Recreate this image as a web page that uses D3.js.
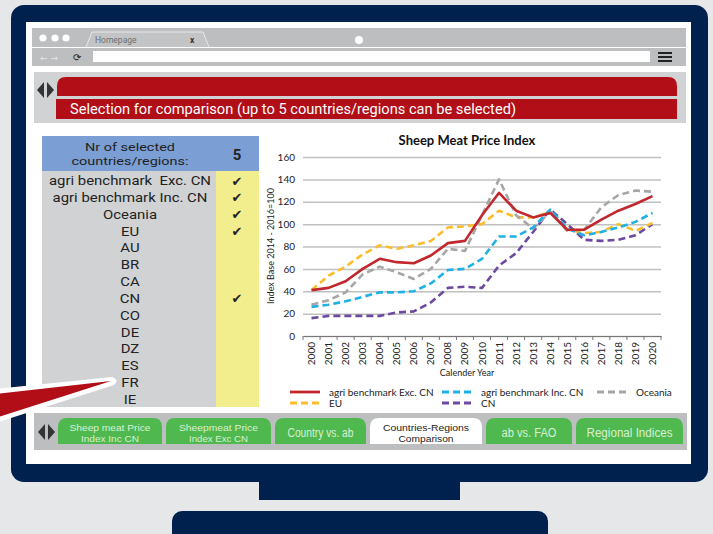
<!DOCTYPE html>
<html><head><meta charset="utf-8">
<script src="https://cdn.jsdelivr.net/npm/d3@7"></script>
<style>html,body{margin:0;padding:0;background:#e6e7e8;}svg{display:block;}</style>
</head><body>
<svg id="c" width="713" height="534"></svg>
<script>
const years = ["2000","2001","2002","2003","2004","2005","2006","2007","2008","2009","2010","2011","2012","2013","2014","2015","2016","2017","2018","2019","2020"];
const abExcCN = [41,43,49,60,69,66,65,72,83,85,108,128,112,106,110,95,95,104,112,118,125];
const abIncCN = [26,28,31,35,39,39,40,47,59,60,69,89,89,97,113,96,90,93,97,102,110];
const oceania = [28,32,39,55,62,57,51,60,78,76,108,140,108,96,111,94,95,115,126,130,129];
const eu = [41,54,62,73,81,78,81,85,97,98,100,112,106,106,111,95,92,93,100,94,101];
const cn = [16,18,18,18,18,21,22,30,43,44,43,63,74,93,113,100,86,85,86,90,100];
const yTicks = [0,20,40,60,80,100,120,140,160];
const listItems = ["agri benchmark\u00a0\u00a0Exc. CN","agri benchmark Inc. CN","Oceania","EU","AU","BR","CA","CN","CO","DE","DZ","ES","FR","IE"];
const checked = [true,true,true,true,false,false,false,true,false,false,false,false,false,false];
const tabs = [["Sheep meat Price","Index Inc CN"],["Sheepmeat Price","Index Exc CN"],["Country vs. ab"],["Countries-Regions","Comparison"],["ab vs. FAO"],["Regional Indices"]];
const tabTextWidths = [[81,58],[79,59],[66],[86,55],[55],[86]];
const activeTab = 3;

const series = [
  {name:"agri benchmark Exc. CN", values:abExcCN, color:"#c1272d", dash:null},
  {name:"agri benchmark Inc. CN", values:abIncCN, color:"#1fb1e6", dash:"7,4"},
  {name:"Oceania", values:oceania, color:"#a6a6a6", dash:"7,4"},
  {name:"EU", values:eu, color:"#fbbd2c", dash:"7,4"},
  {name:"CN", values:cn, color:"#6c4a9f", dash:"7,4"}
];

const svg = d3.select("#c");
const navy = "#00204e";
svg.append("rect").attr("width",713).attr("height",534).attr("fill","#e6e7e8");
// monitor
svg.append("rect").attr("x",172).attr("y",511).attr("width",376).attr("height",40).attr("rx",10).attr("fill",navy);
svg.append("rect").attr("x",259).attr("y",470).attr("width",201).attr("height",30).attr("fill",navy);
svg.append("rect").attr("x",11).attr("y",5).attr("width",697).attr("height",477).attr("rx",13).attr("fill",navy);
svg.append("rect").attr("x",26).attr("y",22).attr("width",665).attr("height",442).attr("fill","#ffffff");

// browser chrome
svg.append("rect").attr("x",32).attr("y",28).attr("width",654).attr("height",19).attr("fill","#bcbec0");
svg.append("rect").attr("x",32).attr("y",48).attr("width",654).attr("height",18).attr("fill","#bcbec0");
[43,55,66].forEach(cx=>svg.append("circle").attr("cx",cx).attr("cy",38).attr("r",3.6).attr("fill","#fff"));
svg.append("path").attr("d","M86,47 L92,32 L203,32 L209,47").attr("fill","#c3c4c6").attr("stroke","#e8e8e8").attr("stroke-width",1);
svg.append("text").attr("x",95).attr("y",43).text("Homepage").attr("font-family","Roboto, sans-serif").attr("font-size",8.5).attr("fill","#6d6e71");
svg.append("text").attr("x",190).attr("y",43).text("x").attr("font-family","Roboto, sans-serif").attr("font-size",8.5).attr("font-weight","bold").attr("fill","#333");
svg.append("circle").attr("cx",359).attr("cy",40).attr("r",4).attr("fill","#fff");
svg.append("text").attr("x",40).attr("y",61).text("\u2190 \u2192").attr("font-family","DejaVu Sans, sans-serif").attr("font-size",9).attr("fill","#e6e6e6");
svg.append("text").attr("x",73).attr("y",61).text("\u27F3").attr("font-family","DejaVu Sans, sans-serif").attr("font-size",10).attr("fill","#222");
svg.append("rect").attr("x",93).attr("y",51).attr("width",557).attr("height",11).attr("fill","#fff");
[53,57,61].forEach(y=>svg.append("rect").attr("x",658).attr("y",y-1).attr("width",14).attr("height",2).attr("fill","#222"));

// red header section
svg.append("rect").attr("x",34).attr("y",72).attr("width",652).attr("height",51).attr("fill","#d1d2d4");
const arrows = (x,y)=>{
  svg.append("path").attr("d",`M${x+7},${y-8} L${x},${y} L${x+7},${y+8} Z`).attr("fill","#333");
  svg.append("path").attr("d",`M${x+10},${y-8} L${x+17},${y} L${x+10},${y+8} Z`).attr("fill","#333");
};
arrows(37,90);
svg.append("path").attr("d","M57,96 L57,86 Q57,77 66,77 L668,77 Q677,77 677,86 L677,96 Z").attr("fill","#b10e17");
svg.append("rect").attr("x",56).attr("y",99).attr("width",621).attr("height",20).attr("fill","#b10e17");
svg.append("text").attr("x",70).attr("y",114).text("Selection for comparison (up to 5 countries/regions can be selected)")
  .attr("font-family","Roboto, sans-serif").attr("font-size",14).attr("textLength",446).attr("lengthAdjust","spacingAndGlyphs").attr("fill","#fff");

// left table
const tf = "Roboto, sans-serif";
svg.append("rect").attr("x",42).attr("y",136).attr("width",217).attr("height",35).attr("fill","#7b9fd4");
const h1 = svg.append("text").attr("x",130).attr("y",151).attr("text-anchor","middle").text("Nr of selected").attr("font-family",tf).attr("font-size",11.5).attr("fill","#222");
const h2 = svg.append("text").attr("x",130).attr("y",164.5).attr("text-anchor","middle").text("countries/regions:").attr("font-family",tf).attr("font-size",11.5).attr("fill","#222");
const hf = 117 / h2.node().getComputedTextLength();
[h1,h2].forEach(t=>t.attr("textLength",t.node().getComputedTextLength()*hf).attr("lengthAdjust","spacingAndGlyphs"));
svg.append("text").attr("x",237).attr("y",160).attr("text-anchor","middle").text(checked.filter(d=>d).length).attr("font-family",tf).attr("font-size",15).attr("font-weight","bold").attr("fill","#222");
svg.append("rect").attr("x",42).attr("y",171).attr("width",174).attr("height",236).attr("fill","#d1d2d4");
svg.append("rect").attr("x",216).attr("y",171).attr("width",43).attr("height",236).attr("fill","#f2ee8e");
const rowY = d3.scaleLinear().domain([0,listItems.length-1]).range([180,399]);
const rows = listItems.map((t,i)=>{
  if(checked[i]) svg.append("text").attr("x",237).attr("y",rowY(i)+5.5).attr("text-anchor","middle").text("\u2714")
    .attr("font-family","DejaVu Sans, sans-serif").attr("font-size",13).attr("fill","#222");
  return svg.append("text").attr("x",130).attr("y",rowY(i)+5).attr("text-anchor","middle").text(t)
    .attr("font-family",tf).attr("font-size",13.5).attr("fill","#222");
});
const rf = 162 / rows[0].node().getComputedTextLength();
rows.forEach(t=>t.attr("textLength",t.node().getComputedTextLength()*rf).attr("lengthAdjust","spacingAndGlyphs"));

// red pointer
svg.append("path").attr("d","M-5,389 L112,377 Q120,380 114,385 L-5,423 Z").attr("fill","#fff");
svg.append("path").attr("d","M-5,394 L111,381 L-5,418 Z").attr("fill","#b10e17");

// tab bar
svg.append("rect").attr("x",34).attr("y",413).attr("width",653).attr("height",37).attr("fill","#bcbec0");
arrows(38,432);
const tabX = [[58,162],[166,271],[275,366],[370,482],[486,572],[576,683]];
const tabFont = "'Liberation Sans', Arial, sans-serif";
tabs.forEach((t,i)=>{
  const [x0,x1]=tabX[i], y0=418, y1=444, r=9;
  const act = i===activeTab;
  svg.append("path").attr("d",`M${x0},${y1} L${x0},${y0+r} Q${x0},${y0} ${x0+r},${y0} L${x1-r},${y0} Q${x1},${y0} ${x1},${y0+r} L${x1},${y1} Z`)
    .attr("fill",act?"#ffffff":"#4fb94f");
  const cx=(x0+x1)/2;
  const fc = act?"#222":"#d9f0d3";
  if(t.length===1){
    svg.append("text").attr("x",cx).attr("y",436.5).attr("text-anchor","middle").text(t[0]).attr("font-family",tabFont).attr("font-size",12)
      .attr("textLength",tabTextWidths[i][0]).attr("lengthAdjust","spacingAndGlyphs").attr("fill",fc);
  } else {
    t.forEach((line,j)=>{
      svg.append("text").attr("x",cx).attr("y",431+j*10.5).attr("text-anchor","middle").text(line).attr("font-family",tabFont).attr("font-size",9.3)
        .attr("textLength",tabTextWidths[i][j]).attr("lengthAdjust","spacingAndGlyphs").attr("fill",fc);
    });
  }
});

// chart
const L=303, R=661, T=157, B=336;
const x = d3.scaleBand().domain(years).range([L,R]);
const y = d3.scaleLinear().domain([0,160]).range([B,T]);
const cf = "Lato, 'Open Sans', sans-serif";
svg.append("text").attr("x",467).attr("y",145).attr("text-anchor","middle").text("Sheep Meat Price Index")
  .attr("font-family",cf).attr("font-size",13).attr("font-weight","bold").attr("fill","#111");
const gy = svg.append("g").attr("transform",`translate(${L},0)`).call(d3.axisLeft(y).tickValues(yTicks).tickSize(-(R-L)).tickPadding(8));
gy.select(".domain").remove();
gy.selectAll(".tick line").attr("stroke","#c0c0c0").attr("stroke-width",1.5);
gy.selectAll(".tick text").attr("font-family",cf).attr("font-size",10).attr("fill","#222");
const gx = svg.append("g").attr("transform",`translate(0,${B})`).call(d3.axisBottom(x).tickSize(0).tickPadding(0));
gx.select(".domain").attr("stroke","#777").attr("stroke-width",1);
gx.selectAll(".tick text").attr("font-family",cf).attr("font-size",10).attr("fill","#222")
  .attr("transform","rotate(-90)").attr("text-anchor","end").attr("dx","-6").attr("dy","0.35em").attr("y",0).attr("x",0);
gx.selectAll(".bnd").data(years.concat(["end"])).enter().append("line")
  .attr("x1",(d,i)=>L+i*x.step()).attr("x2",(d,i)=>L+i*x.step()).attr("y1",0).attr("y2",4).attr("stroke","#777");
svg.append("text").attr("x",467).attr("y",376).attr("text-anchor","middle").text("Calender Year").attr("font-family",cf).attr("font-size",9).attr("fill","#222");
svg.append("text").attr("transform",`translate(274,246) rotate(-90)`).attr("text-anchor","middle").text("Index Base 2014 - 2016=100").attr("font-family",cf).attr("font-size",9).attr("fill","#222");

const line = d3.line().x((d,i)=>x(years[i])+x.bandwidth()/2).y(d=>y(d));
[...series].reverse().forEach(s=>{
  svg.append("path").attr("d",line(s.values)).attr("fill","none").attr("stroke",s.color)
    .attr("stroke-width",2.6).attr("stroke-dasharray",s.dash).attr("stroke-linejoin","round");
});

// legend
const legPos = [[290,392],[442,392],[597,392],[290,403],[442,403]];
series.forEach((s,i)=>{
  const [lx,ly]=legPos[i];
  svg.append("line").attr("x1",lx).attr("x2",lx+30).attr("y1",ly).attr("y2",ly).attr("stroke",s.color).attr("stroke-width",2.8).attr("stroke-dasharray",s.dash?"7,4":null);
  svg.append("text").attr("x",lx+39).attr("y",ly+3.5).text(s.name).attr("font-family",cf).attr("font-size",10).attr("fill","#222");
});
</script>
</body></html>
